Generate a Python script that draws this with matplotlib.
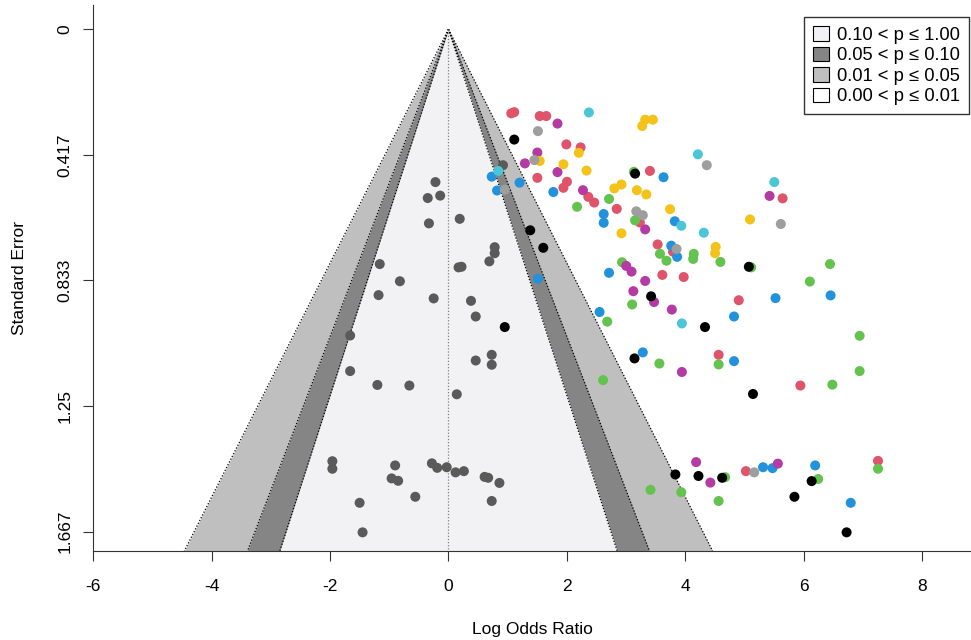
import numpy as np
import matplotlib.pyplot as plt
from matplotlib.patches import Patch

plt.rcParams['font.family'] = ['Liberation Sans', 'DejaVu Sans']
plt.rcParams['axes.unicode_minus'] = False

# log odds ratio / standard error per study, grouped by point colour
lor_dgray = [-0.22, -0.35, -0.14, -0.33, 0.19, 0.78, 0.78, 0.69, 0.17, 0.22,
             -1.16, -0.82, -1.18, -0.25, 0.38, 0.46, -1.66, 0.73, 0.46, 0.73,
             -1.66, -1.20, -0.66, 0.14, -1.96, -1.96, -0.90, -0.96, -0.85, -0.28,
             -0.19, -0.03, 0.12, 0.26, 0.61, 0.67, 0.86, -0.56, -1.50, 0.73,
             -1.45, 0.92]
se_dgray = [0.507, 0.560, 0.552, 0.644, 0.629, 0.723, 0.743, 0.770, 0.790, 0.788,
            0.779, 0.836, 0.882, 0.893, 0.901, 0.953, 1.016, 1.080, 1.099, 1.113,
            1.134, 1.180, 1.182, 1.211, 1.433, 1.458, 1.447, 1.490, 1.498, 1.440,
            1.455, 1.453, 1.470, 1.466, 1.485, 1.488, 1.505, 1.551, 1.571, 1.565,
            1.669, 0.451]

lor_black = [1.11, 3.15, 1.38, 1.60, 3.42, 0.95, 4.33, 5.07, 3.14, 5.14,
             3.83, 4.22, 4.62, 6.13, 5.84, 6.72]
se_black = [0.366, 0.479, 0.667, 0.725, 0.886, 0.988, 0.988, 0.788, 1.092, 1.210,
            1.477, 1.482, 1.488, 1.499, 1.551, 1.669]

lor_red = [1.06, 1.11, 1.54, 1.65, 1.99, 2.23, 3.40, 1.50, 2.00, 1.94,
           2.36, 2.46, 2.84, 3.23, 5.64, 3.53, 3.79, 3.61, 3.97, 4.90,
           4.56, 5.94, 5.02, 7.25]
se_red = [0.279, 0.275, 0.288, 0.288, 0.382, 0.392, 0.470, 0.493, 0.506, 0.526,
          0.556, 0.575, 0.596, 0.641, 0.561, 0.714, 0.738, 0.815, 0.822, 0.899,
          1.080, 1.182, 1.466, 1.432]

lor_blue = [0.73, 0.82, 1.20, 1.77, 3.63, 2.62, 2.62, 3.82, 3.76, 3.86,
            2.71, 5.52, 6.45, 1.51, 2.55, 4.82, 3.28, 4.82, 5.31, 5.47,
            6.19, 6.79]
se_blue = [0.489, 0.535, 0.509, 0.540, 0.491, 0.613, 0.642, 0.637, 0.718, 0.755,
           0.808, 0.892, 0.883, 0.828, 0.938, 0.953, 1.072, 1.101, 1.453, 1.456,
           1.447, 1.571]

lor_green = [3.13, 2.71, 2.17, 3.15, 3.57, 3.68, 4.14, 4.13, 4.59, 5.11,
             2.93, 6.44, 6.10, 3.10, 2.68, 6.94, 3.56, 4.56, 6.94, 6.48,
             2.61, 4.67, 3.41, 3.93, 4.56, 6.24, 7.25]
se_green = [0.473, 0.563, 0.589, 0.634, 0.745, 0.768, 0.745, 0.762, 0.772, 0.790,
            0.773, 0.779, 0.837, 0.913, 0.970, 1.017, 1.109, 1.112, 1.134, 1.179,
            1.164, 1.486, 1.528, 1.536, 1.565, 1.492, 1.458]

lor_magenta = [1.84, 1.50, 1.29, 1.84, 2.27, 3.32, 3.00, 3.09, 3.32, 3.12,
               3.47, 3.77, 3.94, 5.42, 4.18, 4.42, 5.56]
se_magenta = [0.313, 0.409, 0.445, 0.474, 0.534, 0.664, 0.785, 0.804, 0.835, 0.869,
              0.905, 0.930, 1.137, 0.553, 1.436, 1.504, 1.441]

lor_cyan = [2.37, 4.21, 0.84, 3.93, 4.31, 5.50, 3.94]
se_cyan = [0.276, 0.415, 0.470, 0.652, 0.675, 0.507, 0.976]

lor_yellow = [3.32, 3.45, 3.27, 2.20, 1.54, 1.94, 2.33, 2.80, 2.92, 3.18,
              3.34, 3.74, 2.92, 5.09, 4.51, 4.50]
se_yellow = [0.300, 0.300, 0.321, 0.410, 0.437, 0.448, 0.469, 0.528, 0.515, 0.534,
             0.548, 0.597, 0.677, 0.631, 0.722, 0.743]

lor_lgray = [1.51, 1.45, 4.36, 3.17, 3.28, 3.85, 5.61, 5.16, 0.95]
se_lgray = [0.338, 0.434, 0.451, 0.604, 0.617, 0.729, 0.646, 1.470, 0.532]

# contour levels (z) and their fills, outermost first
z_levels = [2.576, 1.960, 1.645]
fills = ['#bfbfbf', '#858585', '#f2f2f4']
legend_labels = ['0.10 < p ≤ 1.00', '0.05 < p ≤ 0.10', '0.01 < p ≤ 0.05', '0.00 < p ≤ 0.01']
legend_fills = ['#f2f2f4', '#858585', '#bfbfbf', 'white']

se_max = 1.731

fig = plt.figure(figsize=(9.71, 6.4), dpi=100)
ax = fig.add_axes([0.0958, 0.139, 0.9042, 0.853])

se_line = np.array([0, se_max])
for z, col in zip(z_levels, fills):
    ax.fill_betweenx(se_line, -z * se_line, z * se_line, color=col, lw=0, zorder=1)
for z in z_levels:
    ax.plot(-z * se_line, se_line, color='black', ls=(0, (1, 1.5)), lw=0.9, zorder=2)
    ax.plot(z * se_line, se_line, color='black', ls=(0, (1, 1.5)), lw=0.9, zorder=2)
ax.plot([0, 0], se_line, color='#808080', ls=(0, (1, 1.5)), lw=0.9, zorder=2)

groups = [
    (lor_dgray, se_dgray, '#5a5a5a'),
    (lor_red, se_red, '#df536b'),
    (lor_blue, se_blue, '#2292dc'),
    (lor_green, se_green, '#64c24e'),
    (lor_magenta, se_magenta, '#b43aa4'),
    (lor_cyan, se_cyan, '#4cc6d6'),
    (lor_yellow, se_yellow, '#f3c31a'),
    (lor_lgray, se_lgray, '#9e9e9e'),
    (lor_black, se_black, 'black'),
]
for xs, ys, col in groups:
    ax.scatter(xs, ys, s=52, color=col, edgecolors='none', zorder=3)

ax.set_xlim(-6, 8.82)
ax.set_ylim(se_max, -0.08)
ax.set_xticks(np.arange(-6, 9, 2))
ax.set_yticks([0, 0.417, 0.833, 1.25, 1.667])
ax.set_yticklabels(['0', '0.417', '0.833', '1.25', '1.667'], rotation=90, va='center')
ax.tick_params(labelsize=12.5, length=7, width=0.8, color='#333333')
ax.tick_params(axis='x', pad=13)
ax.tick_params(axis='y', pad=8)
for side in ['top', 'right']:
    ax.spines[side].set_visible(False)
for side in ['left', 'bottom']:
    ax.spines[side].set_color('#333333')
    ax.spines[side].set_linewidth(0.8)

ax.set_xlabel('Log Odds Ratio', fontsize=12.5, labelpad=20)
ax.set_ylabel('Standard Error', fontsize=12.5, labelpad=22)

handles = [Patch(facecolor=c, edgecolor='black', lw=0.8) for c in legend_fills]
leg = ax.legend(handles, legend_labels, loc='upper right', bbox_to_anchor=(0.9977, 0.978),
                fontsize=13.2, frameon=True, fancybox=False, edgecolor='black',
                handlelength=0.85, handleheight=0.85, handletextpad=0.45,
                labelspacing=0.15, borderpad=0.5, borderaxespad=0)
leg.get_frame().set_linewidth(1.0)

fig.savefig('out.png', dpi=100)
